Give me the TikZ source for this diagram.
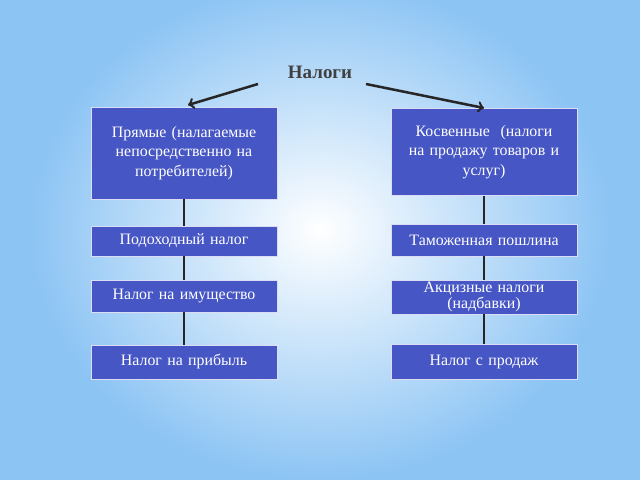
\documentclass[tikz,border=0pt]{standalone}
\usepackage{fontspec}
\setmainfont{Liberation Serif}
\usetikzlibrary{positioning}
\definecolor{boxblue}{RGB}{70,86,196}
\definecolor{bgblue}{RGB}{140,196,244}
\begin{document}
\begin{tikzpicture}[x=0.025cm,y=-0.025cm,
	taxbox/.style={
		draw=white!80!boxblue,
		fill=boxblue,
		text=white,
		line width=0.6pt,
		minimum width=186*0.025cm,
		text width=180*0.025cm,
		align=center,
		inner sep=1pt,
		font=\fontsize{11.3}{14}\selectfont},
	link/.style={line width=1.8pt, black!85}]
	\useasboundingbox (0,0) rectangle (640,480);
	\fill[bgblue] (0,0) rectangle (640,480);
	\shade[inner color=white, outer color=bgblue] (320,230) ellipse [x radius=290, y radius=250];
	\node (title) at (320,72) [font=\bfseries\fontsize{13.5}{15}\selectfont, text=black!75] {Налоги};
	% left column
	\node (pr) at (184,153) [taxbox, minimum height=92*0.025cm] {Прямые (налагаемые\\непосредственно на\\потребителей)};
	\node (l1) at (184,241) [taxbox, minimum height=30*0.025cm] {Подоходный налог};
	\node (l2) at (184,296) [taxbox, minimum height=32*0.025cm] {Налог на имущество};
	\node (l3) at (184,362) [taxbox, minimum height=34*0.025cm] {Налог на прибыль};
	% right column
	\node (kos) at (484,152) [taxbox, minimum height=87*0.025cm] {Косвенные\ \ (налоги\\на продажу товаров и\\услуг)};
	\node (r1) at (484,240) [taxbox, minimum height=32*0.025cm] {Таможенная пошлина};
	\node (r2) at (484,297) [taxbox, minimum height=34*0.025cm, font=\fontsize{11.3}{12}\selectfont] {Акцизные налоги\\(надбавки)};
	\node (r3) at (484,362) [taxbox, minimum height=35*0.025cm] {Налог с продаж};
	\draw[link] (pr) -- (l1); \draw[link] (l1) -- (l2); \draw[link] (l2) -- (l3);
	\draw[link] (kos) -- (r1); \draw[link] (r1) -- (r2); \draw[link] (r2) -- (r3);
	\coordinate (tl) at (258,84);
	\coordinate (tr) at (366,84);
	\coordinate (pl) at (188,105);
	\coordinate (kr) at (484,108);
	\draw[link,->] (tl) -- (pl);
	\draw[link,->] (tr) -- (kr);
\end{tikzpicture}
\end{document}
